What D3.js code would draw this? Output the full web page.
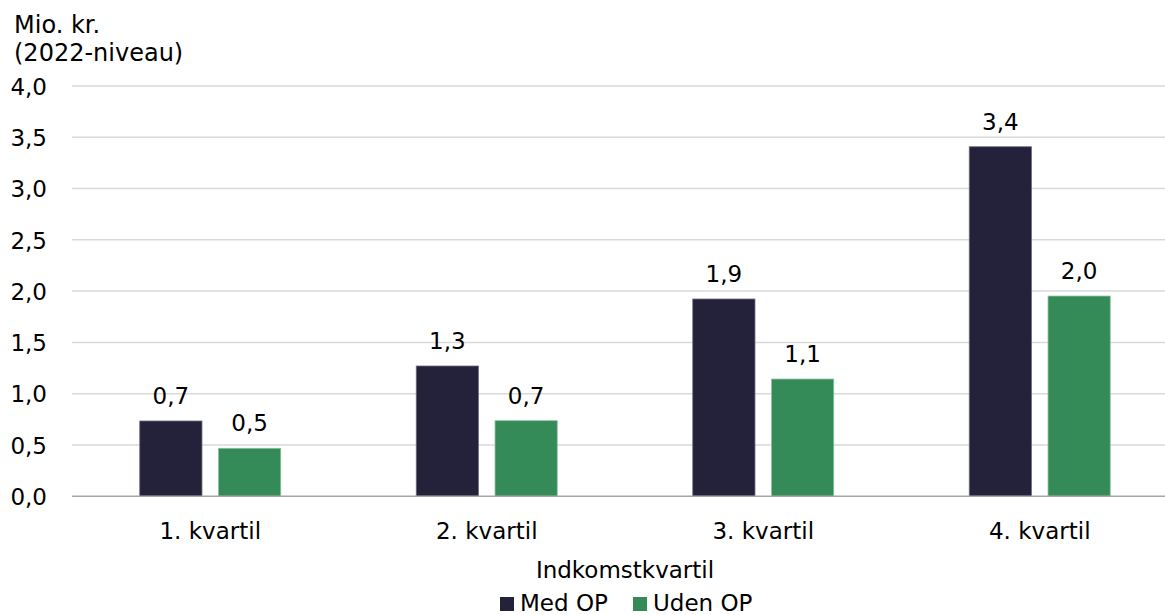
<!DOCTYPE html>
<html><head><meta charset="utf-8">
<script src="https://cdn.jsdelivr.net/npm/d3@7"></script>
<style>
html,body{margin:0;padding:0;background:#fff;}
svg{display:block;font-family:"DejaVu Sans",sans-serif;}
</style></head>
<body>
<svg id="c" width="1165" height="615"></svg>
<script>
const categories = ["1. kvartil","2. kvartil","3. kvartil","4. kvartil"];
const seriesNames = ["Med OP","Uden OP"];
const medOP = [0.734, 1.27, 1.923, 3.407];
const udenOP = [0.468, 0.737, 1.143, 1.952];
const labelsMed = ["0,7","1,3","1,9","3,4"];
const labelsUden = ["0,5","0,7","1,1","2,0"];
const yTicks = [0,0.5,1,1.5,2,2.5,3,3.5,4];
const colors = ["#24223a","#358b57"];

const svg = d3.select("#c");
const fs = 23;
const x = d3.scaleBand().domain(categories).range([72, 1178]);
const xs = d3.scaleBand().domain(seriesNames).range([67.75, 208.75]).paddingInner(0.21).paddingOuter(0);
const y = d3.scaleLinear().domain([0,4]).range([496.3, 85.9]);
const fmt = v => d3.format(".1f")(v).replace(".", ",");

// gridlines
svg.append("g").selectAll("line").data(yTicks.filter(d=>d>0)).join("line")
  .attr("x1",72).attr("x2",1178).attr("y1",d=>y(d)).attr("y2",d=>y(d))
  .attr("stroke","#d9d9d9").attr("stroke-width",1.5);

// y axis labels
const yAxis = d3.axisLeft(y).tickValues(yTicks).tickFormat(fmt).tickSize(0).tickPadding(0);
svg.append("g").attr("transform","translate(47,0)").call(yAxis)
  .call(g=>g.select(".domain").remove())
  .call(g=>g.selectAll("text").attr("font-size",fs).attr("font-family","DejaVu Sans").attr("fill","#000").attr("dy","0.36em"));

const data = categories.map((c,i)=>({c, vals:[medOP[i], udenOP[i]], labs:[labelsMed[i], labelsUden[i]]}));
const groups = svg.append("g").selectAll("g").data(data).join("g")
  .attr("transform",d=>`translate(${x(d.c)},0)`);
groups.selectAll("rect").data(d=>d.vals.map((v,j)=>({v,j}))).join("rect")
  .attr("x",d=>xs(seriesNames[d.j])).attr("width",xs.bandwidth())
  .attr("y",d=>y(d.v)).attr("height",d=>y(0)-y(d.v))
  .attr("fill",d=>colors[d.j])
  .attr("stroke",d=>d.j===0?"#6e6d80":"#8cc4a0").attr("stroke-width",0.8);
groups.selectAll("text").data(d=>d.vals.map((v,j)=>({v,j,l:d.labs[j]}))).join("text")
  .attr("x",d=>xs(seriesNames[d.j])+xs.bandwidth()/2)
  .attr("y",d=>y(d.v)-17)
  .attr("text-anchor","middle").attr("font-size",fs).attr("fill","#000")
  .text(d=>d.l);

// baseline
svg.append("line").attr("x1",72).attr("x2",1178).attr("y1",y(0)).attr("y2",y(0))
  .attr("stroke","#a6a6a6").attr("stroke-width",1.5);

// x axis labels
const xAxis = d3.axisBottom(x).tickSize(0).tickPadding(0);
svg.append("g").attr("transform",`translate(0,${y(0)})`).call(xAxis)
  .call(g=>g.select(".domain").remove())
  .call(g=>g.selectAll("text").attr("font-size",fs).attr("font-family","DejaVu Sans").attr("fill","#000").attr("dy",null).attr("y",43));

// titles
svg.append("text").attr("x",14).attr("y",33).attr("font-size",24).text("Mio. kr.");
svg.append("text").attr("x",14).attr("y",61).attr("font-size",24).text("(2022-niveau)");
svg.append("text").attr("x",625).attr("y",578).attr("text-anchor","middle").attr("font-size",fs).text("Indkomstkvartil");

// legend
const legX = [500, 633];
const leg = svg.append("g").selectAll("g").data(seriesNames).join("g")
  .attr("transform",(d,i)=>`translate(${legX[i]},0)`);
leg.append("rect").attr("x",0).attr("y",597).attr("width",14).attr("height",14).attr("fill",(d,i)=>colors[i]);
leg.append("text").attr("x",20).attr("y",611).attr("font-size",fs).text(d=>d);
</script>
</body></html>
